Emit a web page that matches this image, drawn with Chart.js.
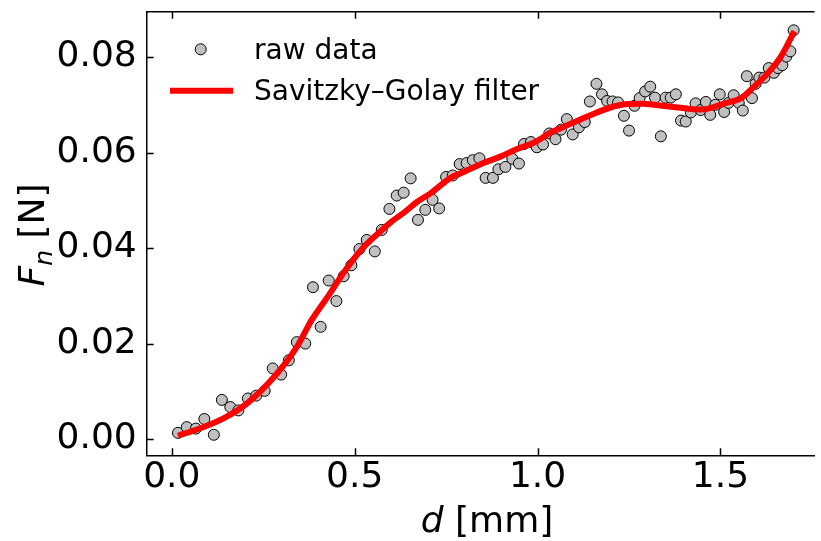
<!DOCTYPE html>
<html>
<head>
<meta charset="utf-8">
<script src="https://cdn.jsdelivr.net/npm/chart.js@4.4.1/dist/chart.umd.min.js"></script>
<style>
html, body { margin: 0; padding: 0; background: #fff; overflow: hidden; }
#wrap { width: 821px; height: 541px; }
</style>
</head>
<body>
<div id="wrap"><canvas id="chart" width="821" height="541"></canvas></div>
<script>
// raw measurements: displacement d [mm] and normal force Fn [N]
const rawD = [0.017, 0.041, 0.066, 0.089, 0.115, 0.137, 0.160, 0.182, 0.208, 0.231,
  0.254, 0.276, 0.299, 0.320, 0.342, 0.365, 0.386, 0.407, 0.429, 0.450,
  0.470, 0.491, 0.513, 0.533, 0.555, 0.574, 0.595, 0.615, 0.634, 0.653,
  0.673, 0.693, 0.713, 0.731, 0.750, 0.768, 0.787, 0.806, 0.823, 0.841,
  0.858, 0.878, 0.893, 0.912, 0.931, 0.949, 0.963, 0.982, 0.998, 1.015,
  1.032, 1.049, 1.064, 1.080, 1.096, 1.113, 1.129, 1.143, 1.161, 1.176,
  1.190, 1.205, 1.220, 1.236, 1.250, 1.265, 1.279, 1.294, 1.308, 1.321,
  1.337, 1.350, 1.364, 1.378, 1.392, 1.405, 1.419, 1.432, 1.446, 1.460,
  1.472, 1.486, 1.498, 1.510, 1.522, 1.536, 1.550, 1.561, 1.572, 1.586,
  1.596, 1.606, 1.620, 1.632, 1.646, 1.657, 1.669, 1.680, 1.691, 1.700];
const rawF = [0.0013, 0.0025, 0.0022, 0.0042, 0.0009, 0.0082, 0.0067, 0.0060, 0.0085, 0.0091,
  0.0101, 0.0148, 0.0135, 0.0165, 0.0203, 0.0200, 0.0318, 0.0235, 0.0332, 0.0289,
  0.0341, 0.0364, 0.0398, 0.0417, 0.0393, 0.0438, 0.0482, 0.0510, 0.0516, 0.0546,
  0.0459, 0.0480, 0.0501, 0.0483, 0.0549, 0.0552, 0.0576, 0.0578, 0.0584, 0.0588,
  0.0547, 0.0547, 0.0565, 0.0570, 0.0587, 0.0577, 0.0618, 0.0622, 0.0611, 0.0617,
  0.0640, 0.0628, 0.0648, 0.0670, 0.0638, 0.0653, 0.0664, 0.0707, 0.0744, 0.0722,
  0.0708, 0.0707, 0.0705, 0.0677, 0.0646, 0.0698, 0.0714, 0.0728, 0.0738, 0.0715,
  0.0634, 0.0715, 0.0715, 0.0722, 0.0667, 0.0665, 0.0684, 0.0703, 0.0689, 0.0706,
  0.0679, 0.0700, 0.0722, 0.0685, 0.0704, 0.0720, 0.0704, 0.0688, 0.0760, 0.0714,
  0.0744, 0.0757, 0.0757, 0.0777, 0.0767, 0.0777, 0.0783, 0.0801, 0.0812, 0.0856];

// smoothed curve
const sgD = [0.017, 0.076, 0.148, 0.211, 0.283, 0.342, 0.383, 0.428, 0.473, 0.520,
  0.563, 0.600, 0.636, 0.671, 0.708, 0.762, 0.800, 0.852, 0.900, 0.942,
  0.988, 1.015, 1.033, 1.060, 1.105, 1.159, 1.222, 1.285, 1.330, 1.376,
  1.448, 1.511, 1.556, 1.592, 1.629, 1.665, 1.702];
const sgF = [0.0007, 0.0022, 0.0046, 0.0078, 0.0133, 0.0193, 0.0250, 0.0300, 0.0352, 0.0398,
  0.0430, 0.0455, 0.0475, 0.0497, 0.0515, 0.0547, 0.0560, 0.0578, 0.0592, 0.0607,
  0.0620, 0.0632, 0.0641, 0.0650, 0.0665, 0.0683, 0.0699, 0.0702, 0.0699, 0.0695,
  0.0690, 0.0703, 0.0714, 0.0738, 0.0766, 0.0801, 0.0854];

const xTicks = [0, 0.5, 1.0, 1.5];
const yTicks = [0, 0.02, 0.04, 0.06, 0.08];
const seriesNames = ['raw data', 'Savitzky\u2013Golay filter'];

const FONT = 'DejaVu Sans';

// draw a row of text runs (mixed italic / subscript) centred on x
function drawRuns(ctx, runs, x, y) {
  let total = 0;
  runs.forEach(r => {
    ctx.font = (r.italic ? 'italic ' : '') + r.size + 'px "' + FONT + '"';
    r.w = ctx.measureText(r.text).width;
    total += r.w;
  });
  let cx = x - total / 2;
  ctx.textAlign = 'left';
  ctx.textBaseline = 'alphabetic';
  runs.forEach(r => {
    ctx.font = (r.italic ? 'italic ' : '') + r.size + 'px "' + FONT + '"';
    ctx.fillText(r.text, cx, y + (r.dy || 0));
    cx += r.w;
  });
}

const decor = {
  id: 'decor',
  afterDraw(chart) {
    const { ctx, chartArea: a, scales: { x, y } } = chart;
    ctx.save();
    ctx.strokeStyle = '#000';
    ctx.lineWidth = 1.5;

    // top spine
    ctx.beginPath();
    ctx.moveTo(a.left, a.top);
    ctx.lineTo(a.right, a.top);
    ctx.stroke();

    // inward ticks
    ctx.beginPath();
    xTicks.forEach(v => {
      const px = Math.round(x.getPixelForValue(v)) + 0.5;
      ctx.moveTo(px, a.bottom); ctx.lineTo(px, a.bottom - 7);
      ctx.moveTo(px, a.top); ctx.lineTo(px, a.top + 7);
    });
    yTicks.forEach(v => {
      const py = Math.round(y.getPixelForValue(v)) + 0.5;
      ctx.moveTo(a.left, py); ctx.lineTo(a.left + 7, py);
    });
    ctx.stroke();

    // axis titles
    ctx.fillStyle = '#000';
    drawRuns(ctx, [
      { text: 'd', italic: true, size: 36 },
      { text: ' [mm]', size: 36 }
    ], 487, 532);

    ctx.save();
    ctx.translate(44, 235);
    ctx.rotate(-Math.PI / 2);
    drawRuns(ctx, [
      { text: 'F', italic: true, size: 36 },
      { text: 'n', italic: true, size: 25, dy: 8 },
      { text: ' [N]', size: 36 }
    ], 0, 0);
    ctx.restore();

    // legend
    const ds = chart.data.datasets;
    ctx.font = '28px "' + FONT + '"';
    ctx.textAlign = 'left';
    ctx.textBaseline = 'alphabetic';
    ctx.beginPath();
    ctx.arc(200.7, 49.3, 5.5, 0, Math.PI * 2);
    ctx.fillStyle = '#c0c0c0';
    ctx.fill();
    ctx.lineWidth = 1;
    ctx.strokeStyle = '#000';
    ctx.stroke();
    ctx.fillStyle = '#000';
    ctx.fillText(ds[0].label, 254, 59);

    ctx.beginPath();
    ctx.moveTo(170, 90.7);
    ctx.lineTo(233, 90.7);
    ctx.lineWidth = 6;
    ctx.strokeStyle = '#ff0000';
    ctx.stroke();
    ctx.fillStyle = '#000';
    ctx.fillText(ds[1].label, 254, 100);

    ctx.restore();
  }
};

new Chart(document.getElementById('chart'), {
  type: 'scatter',
  data: {
    datasets: [
      {
        label: seriesNames[0],
        data: rawD.map((d, i) => ({ x: d, y: rawF[i] })),
        pointRadius: 5.5,
        pointBackgroundColor: '#c0c0c0',
        pointBorderColor: '#000',
        pointBorderWidth: 1,
        order: 2
      },
      {
        label: seriesNames[1],
        data: sgD.map((d, i) => ({ x: d, y: sgF[i] })),
        showLine: true,
        pointRadius: 0,
        borderColor: '#ff0000',
        borderWidth: 6,
        cubicInterpolationMode: 'monotone',
        order: 1
      }
    ]
  },
  options: {
    responsive: false,
    animation: false,
    events: [],
    layout: { padding: { left: 0, top: 11.7, right: 0, bottom: 0 } },
    plugins: {
      legend: { display: false },
      tooltip: { enabled: false }
    },
    scales: {
      x: {
        type: 'linear',
        min: -0.0685,
        max: 1.757,
        afterBuildTicks: s => { s.ticks = xTicks.map(v => ({ value: v })); },
        afterFit: s => { s.height = 85.7; s.paddingLeft = 0; s.paddingRight = 0; },
        grid: { display: false, drawTicks: false },
        border: { display: true, color: '#000', width: 1.5 },
        ticks: {
          color: '#000',
          padding: 1,
          maxRotation: 0,
          font: { family: FONT, size: 36 },
          callback: v => v.toFixed(1)
        }
      },
      y: {
        type: 'linear',
        min: -0.0034,
        max: 0.0895,
        afterBuildTicks: s => { s.ticks = yTicks.map(v => ({ value: v })); },
        afterFit: s => { s.width = 146.7; s.paddingTop = 0; s.paddingBottom = 0; },
        grid: { display: false, drawTicks: false },
        border: { display: true, color: '#000', width: 1.5 },
        ticks: {
          color: '#000',
          padding: 10,
          font: { family: FONT, size: 36 },
          callback: v => v.toFixed(2)
        }
      }
    }
  },
  plugins: [decor]
});
</script>
</body>
</html>
